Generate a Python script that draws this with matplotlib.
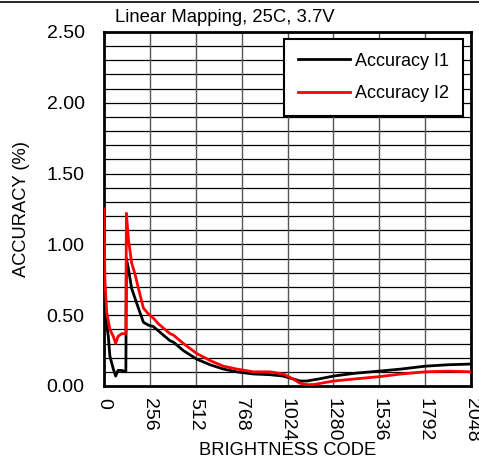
import numpy as np
import matplotlib.pyplot as plt
import matplotlib.lines as mlines

plt.rcParams['font.family'] = ['Liberation Sans', 'DejaVu Sans']

# Accuracy I1 (black)
code_i1 = [0, 10, 24, 33, 52, 65, 78, 100, 122, 125, 136, 154, 173, 192, 220,
           247, 275, 303, 340, 368, 387, 443, 517, 592, 666, 740, 833, 926,
           1000, 1055, 1094, 1130, 1200, 1280, 1400, 1536, 1660, 1792, 1920, 2048]
acc_i1 = [0.52, 0.48, 0.35, 0.21, 0.12, 0.07, 0.11, 0.11, 0.10, 0.90, 0.83,
          0.69, 0.62, 0.55, 0.45, 0.43, 0.42, 0.39, 0.35, 0.32, 0.31, 0.25,
          0.19, 0.15, 0.12, 0.10, 0.085, 0.08, 0.07, 0.05, 0.035, 0.035, 0.05,
          0.07, 0.09, 0.105, 0.12, 0.14, 0.15, 0.155]

# Accuracy I2 (red)
code_i2 = [0, 5, 15, 33, 52, 65, 78, 100, 122, 125, 136, 154, 173, 192, 220,
           247, 275, 303, 340, 368, 387, 443, 517, 592, 666, 740, 833, 926,
           1000, 1055, 1093, 1130, 1170, 1280, 1400, 1536, 1660, 1792, 1920, 2048]
acc_i2 = [1.25, 0.75, 0.52, 0.40, 0.35, 0.30, 0.35, 0.37, 0.37, 1.22, 1.04,
          0.87, 0.79, 0.69, 0.55, 0.51, 0.48, 0.44, 0.40, 0.37, 0.36, 0.30,
          0.23, 0.18, 0.14, 0.12, 0.10, 0.10, 0.085, 0.05, 0.02, 0.01, 0.01,
          0.035, 0.05, 0.066, 0.085, 0.10, 0.105, 0.10]

x_ticks = [0, 256, 512, 768, 1024, 1280, 1536, 1792, 2048]
y_ticks = [0.0, 0.5, 1.0, 1.5, 2.0, 2.5]

fig = plt.figure(figsize=(4.79, 4.62), dpi=100)
ax = fig.add_axes([104/479, 1-386/462, 367/479, 354/462])

ax.plot(code_i1, acc_i1, color='black', lw=2, label='Accuracy I1', zorder=3)
ax.plot(code_i2, acc_i2, color='red', lw=2, label='Accuracy I2', zorder=4)

ax.set_xlim(0, 2048)
ax.set_ylim(0, 2.5)
ax.set_xticks(x_ticks)
ax.set_xticklabels([str(v) for v in x_ticks], rotation=-90, fontsize=14)
ax.set_yticks(y_ticks)
ax.set_yticklabels(['%.2f' % v for v in y_ticks], fontsize=14)
ax.tick_params(axis='y', length=0, pad=14)
ax.tick_params(axis='x', length=0, pad=9)

# grid
for yv in np.arange(0.1, 2.5, 0.1):
    ax.axhline(yv, color='black', lw=0.9, zorder=1)
for xv in x_ticks[1:-1]:
    ax.axvline(xv, color='#555555', lw=1.0, zorder=1)

for s in ax.spines.values():
    s.set_linewidth(2)

ax.set_xlabel('BRIGHTNESS CODE', fontsize=13.2, labelpad=0)
ax.set_ylabel('ACCURACY (%)', fontsize=13.2, labelpad=12)

leg = ax.legend(loc='upper right', bbox_to_anchor=(0.978, 0.98), borderaxespad=0,
                fontsize=13, handlelength=2.9, handletextpad=0.3,
                labelspacing=0.85, borderpad=0.75,
                fancybox=False, framealpha=1, edgecolor='black')
leg.get_frame().set_linewidth(1.5)

fig.text(225/479, 1-18/462, 'Linear Mapping, 25C, 3.7V', ha='center',
         va='center', fontsize=13.3)
fig.add_artist(mlines.Line2D([0, 1], [1-1.5/462, 1-1.5/462], color='black', lw=1.2))

fig.savefig('out.png', dpi=100)
